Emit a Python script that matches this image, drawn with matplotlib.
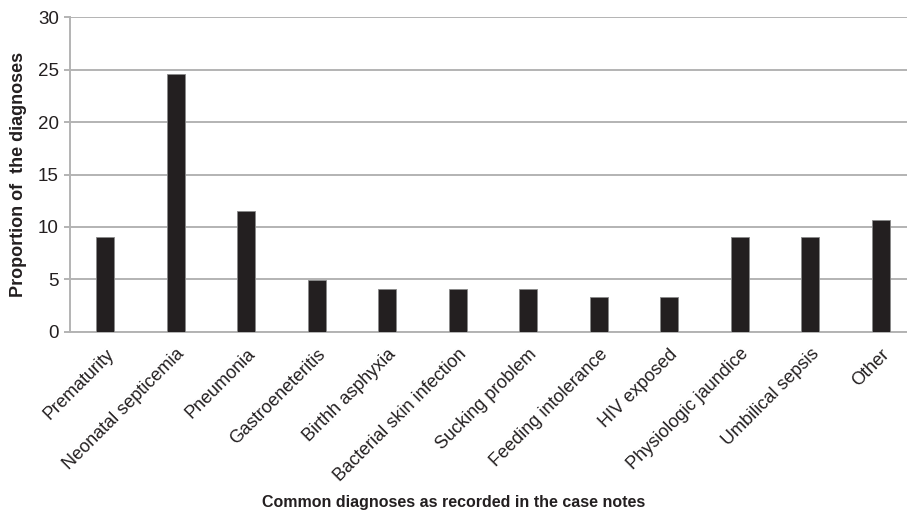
import numpy as np
import matplotlib
matplotlib.use("Agg")
import matplotlib.pyplot as plt

plt.rcParams['font.family'] = ['Liberation Sans', 'DejaVu Sans']

diagnoses = ["Prematurity", "Neonatal septicemia", "Pneumonia", "Gastroeneteritis",
             "Birthh asphyxia", "Bacterial skin infection", "Sucking problem",
             "Feeding intolerance", "HIV exposed", "Physiologic jaundice",
             "Umbilical sepsis", "Other"]
proportion = [9.0, 24.6, 11.5, 4.9, 4.1, 4.1, 4.1, 3.3, 3.3, 9.0, 9.0, 10.7]
y_ticks = [0, 5, 10, 15, 20, 25, 30]

fig = plt.figure(figsize=(9.07, 5.16), dpi=100)
# axes runs past the right edge, the reference is cropped there
ax = fig.add_axes([70 / 907, 1 - 331.7 / 516, 846 / 907, 314.4 / 516])

x = np.arange(len(diagnoses))
ax.bar(x, proportion, width=0.25, color="#231f20", edgecolor="#8a8a8a",
       linewidth=0.6, zorder=3)

ax.set_xlim(-0.5, len(diagnoses) - 0.5)
ax.set_ylim(0, 30)
ax.set_yticks(y_ticks)
ax.yaxis.grid(True, color="#b3b3b3", linewidth=1.4, zorder=0)
ax.set_axisbelow(True)

for s in ["top", "right"]:
    ax.spines[s].set_visible(False)
ax.spines["left"].set_color("#b3b3b3")
ax.spines["left"].set_linewidth(1.4)
ax.spines["bottom"].set_color("#b3b3b3")
ax.spines["bottom"].set_linewidth(1.4)

ax.tick_params(axis="y", length=4, width=1.4, color="#b3b3b3", labelsize=13.5,
               labelcolor="#231f20", pad=4)
ax.tick_params(axis="x", length=0, labelsize=13, labelcolor="#231f20", pad=10)

ax.set_xticks(x)
ax.set_xticklabels(diagnoses, rotation=45, ha="right", rotation_mode="anchor")

ax.set_ylabel("Proportion of  the diagnoses", fontsize=13, fontweight="bold",
              color="#231f20")
ax.yaxis.set_label_coords(-0.051, 0.5)
fig.text(0.5, 1 - 502 / 516, "Common diagnoses as recorded in the case notes",
         ha="center", va="center", fontsize=11.5, fontweight="bold", color="#231f20")

fig.savefig("out.png", dpi=100)
